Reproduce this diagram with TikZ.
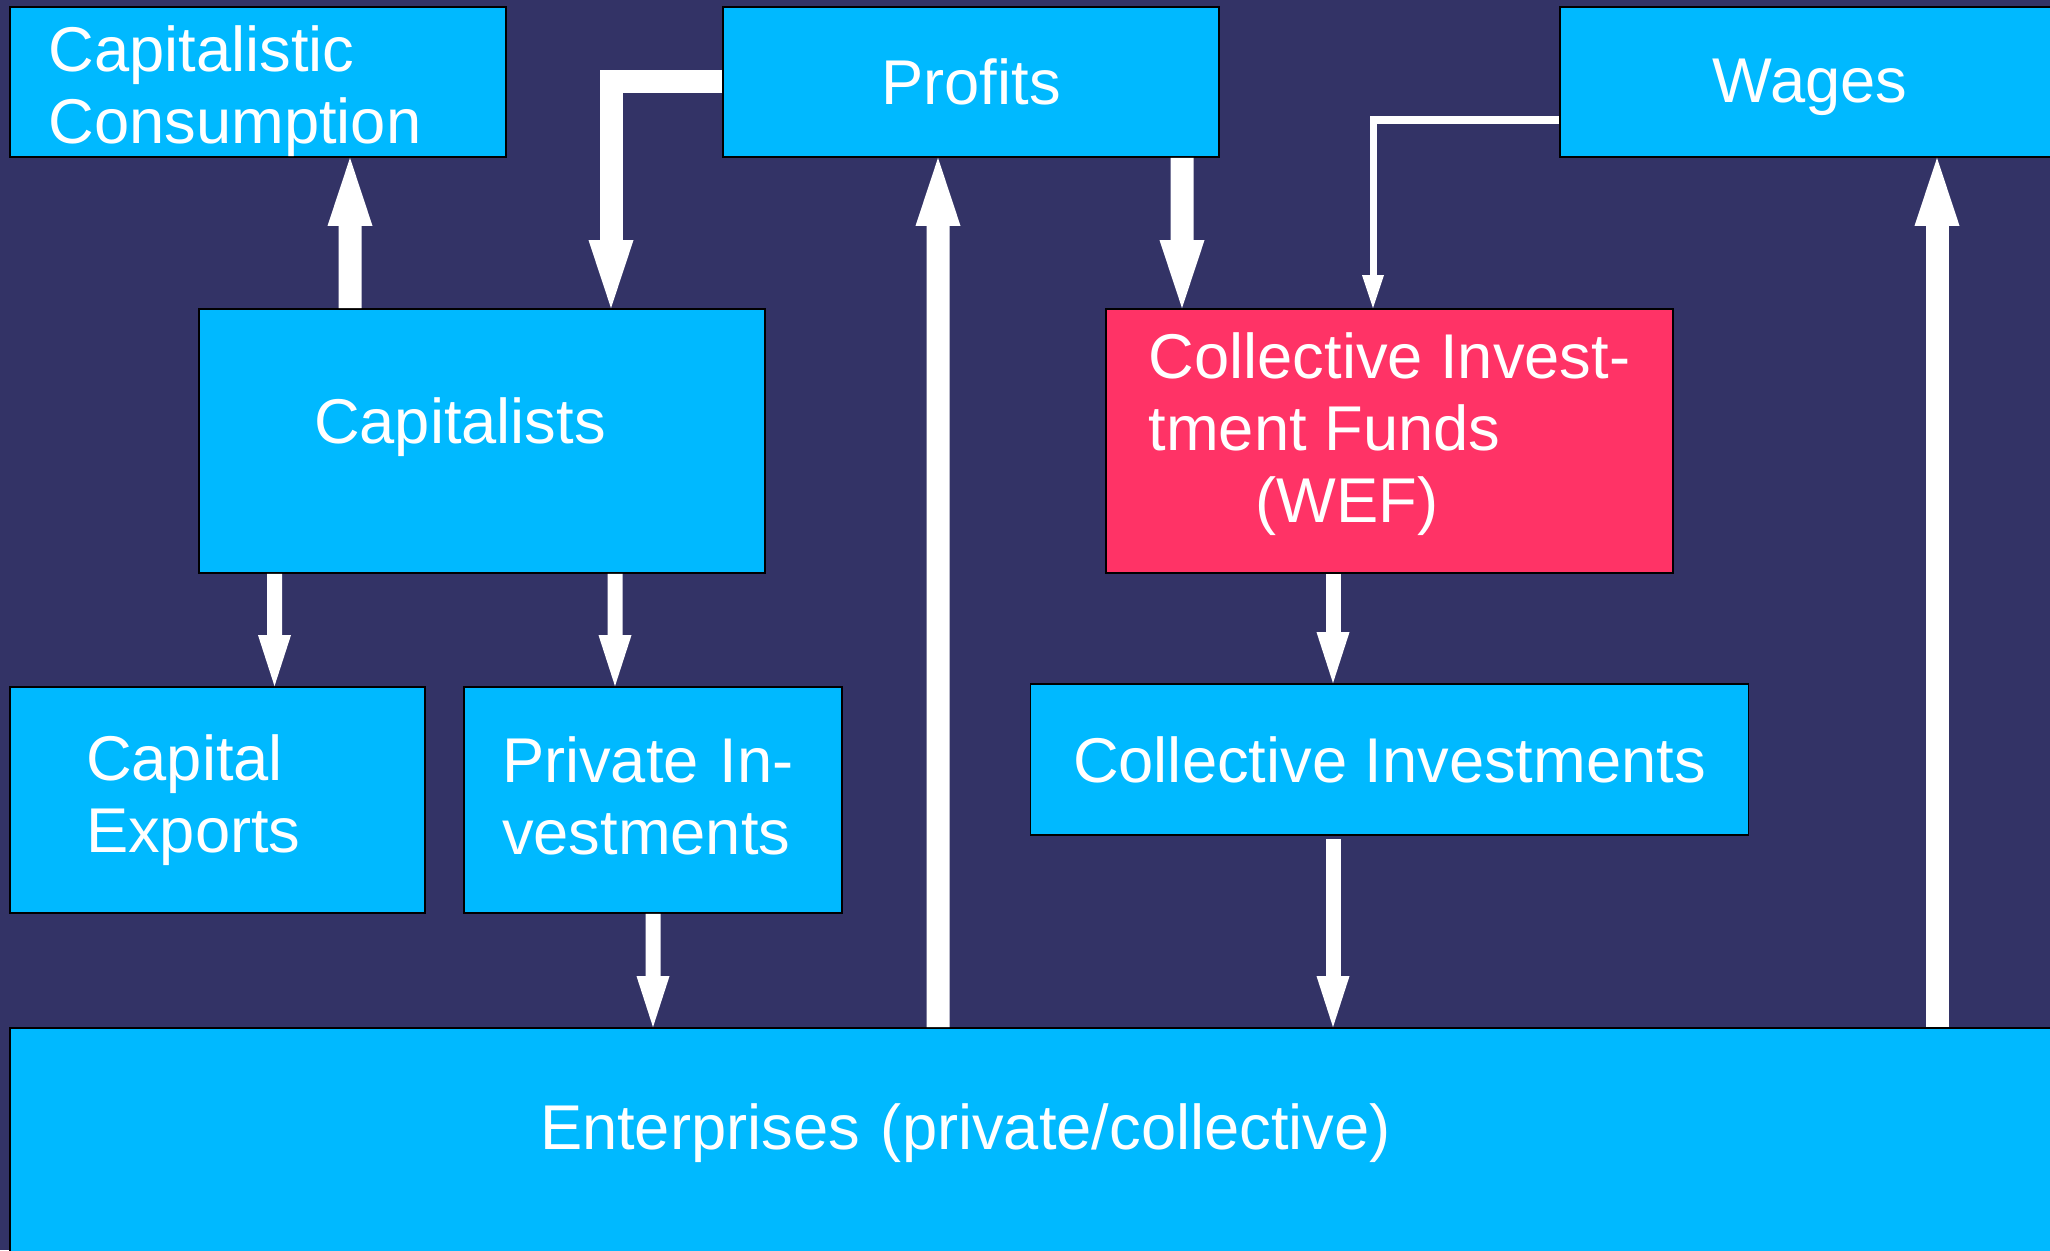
\documentclass[tikz,border=0pt]{standalone}
\usepackage{fontspec}
\setmainfont{Liberation Sans}
\usetikzlibrary{arrows.meta,calc}

\definecolor{slide}{HTML}{333366}
\definecolor{boxblue}{HTML}{00B9FF}
\definecolor{boxred}{HTML}{FF3366}

\tikzstyle{box} = [draw=black, line width=0.5pt, fill=boxblue, text=white,
                   font=\fontsize{18}{20.5}\selectfont]
\tikzstyle{flow} = [draw=white, line width=0.23cm, -{Triangle[length=0.68cm,width=0.45cm,line width=0pt]}]
\tikzstyle{midflow} = [draw=white, line width=0.15cm, -{Triangle[length=0.51cm,width=0.33cm,line width=0pt]}]
\tikzstyle{thinflow} = [draw=white, line width=0.07cm, -{Triangle[length=0.33cm,width=0.22cm,line width=0pt]}]

\begin{document}
\begin{tikzpicture}
                % background of the slide
                \fill[slide] (0,0) rectangle (20.5,-12.5);
                \useasboundingbox (0,0) rectangle (20.5,-12.5);
                % top row
                \node[box,
                    minimum width=4.96cm,
                    minimum height=1.5cm,
                    text width=4.19cm, inner xsep=0.385cm, inner ysep=0pt, align=left] (cons) at (2.58,-0.82) {\rule{0pt}{0.64cm}Capitalistic\\Consumption};
                \node[box,
                    minimum width=4.96cm,
                    minimum height=1.5cm] (prof) at (9.71,-0.82) {Profits};
                \node[box,
                    minimum width=5cm,
                    minimum height=1.5cm,
                    text height=0.55cm] (wage) at (18.10,-0.82) {Wages};
                % middle row
                \node[box,
                    minimum width=5.66cm,
                    minimum height=2.64cm,
                    text width=3.36cm, inner xsep=1.15cm, align=left,
                    text depth=0.40cm] (cap) at (4.82,-4.41) {Capitalists};
                \node[box, fill=boxred,
                    minimum width=5.67cm,
                    minimum height=2.64cm, align=left] (wef) at (13.895,-4.41) {Collective Invest-\\tment Funds\\\hspace*{1.07cm}(WEF)\rule[-0.26cm]{0pt}{0pt}};
                % lower row
                \node[box,
                    minimum width=4.15cm,
                    minimum height=2.26cm,
                    text width=2.63cm, inner xsep=0.76cm, align=left] (cexp) at (2.175,-8.00) {Capital\\Exports};
                \node[box,
                    minimum width=3.78cm,
                    minimum height=2.26cm,
                    text width=3.02cm, inner xsep=0.38cm, align=left] (pinv) at (6.53,-8.00) {Private In-\\vestments\rule[-0.08cm]{0pt}{0pt}};
                \node[box,
                    minimum width=7.18cm,
                    minimum height=1.51cm] (ci) at (13.895,-7.595) {Collective Investments};
                \node[box,
                    minimum width=20.5cm,
                    minimum height=2.34cm,
                    text width=9.9cm, inner xsep=5.3cm, align=left,
                    text depth=0.36cm] (ent) at (10.35,-11.45) {Enterprises (private/collective)};
                % Draw edges
                \draw[flow] ($(cap.north)+(-1.32,0)$) -- ($(cons.south)+(0.92,0)$);
                \draw[flow] (prof.west) -| ($(cap.north)+(1.29,0)$);
                \draw[flow] ($(ent.north)+(-0.97,0)$) -- ($(prof.south)+(-0.33,0)$);
                \draw[flow] ($(prof.south)+(2.11,0)$) -- ($(wef.north)+(-2.075,0)$);
                \draw[thinflow] ($(wage.west)+(0,-0.38)$) -| ($(wef.north)+(-0.165,0)$);
                \draw[flow] ($(ent.north)+(9.02,0)$) -- ($(wage.south)+(1.27,0)$);
                \draw[midflow] ($(cap.south)+(-2.075,0)$) -- ($(cexp.north)+(0.57,0)$);
                \draw[midflow] ($(cap.south)+(1.33,0)$) -- ($(pinv.north)+(-0.38,0)$);
                \draw[midflow] (pinv.south) -- ($(ent.north)+(-3.82,0)$);
                \draw[midflow] ($(wef.south)+(-0.565,0)$) -- ($(ci.north)+(-0.565,0)$);
                \draw[midflow] ($(ci.south)+(-0.565,-0.03)$) -- ($(ent.north)+(2.98,0)$);
        \end{tikzpicture}
\end{document}
